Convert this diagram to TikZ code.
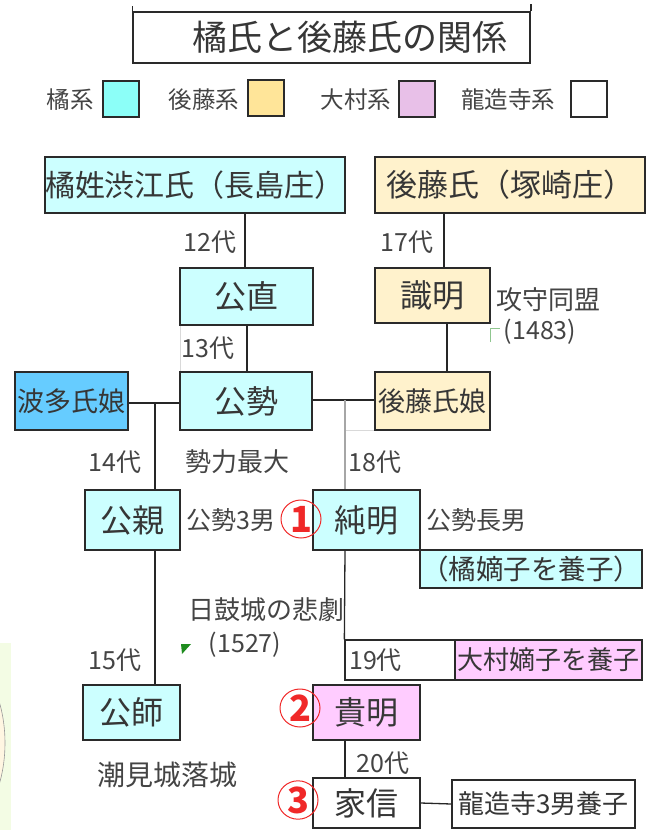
\documentclass[tikz,border=0pt]{standalone}
\usepackage{fontspec}
\usetikzlibrary{shapes.geometric}
\setmainfont{Noto Sans CJK JP}
\definecolor{cyanbox}{HTML}{CCFFFF}
\definecolor{orbox}{HTML}{FFF2CC}
\definecolor{bluebox}{HTML}{66CCFF}
\definecolor{pinkbox}{HTML}{FFCCFF}
\definecolor{legcyan}{HTML}{8CFFF8}
\definecolor{legor}{HTML}{FFE599}
\definecolor{legpink}{HTML}{E8C0E8}
\definecolor{txt}{HTML}{363636}
\definecolor{lbltxt}{HTML}{444444}
\definecolor{bordc}{HTML}{2A2A2A}
\definecolor{mkgreen}{HTML}{1E8C1E}
\definecolor{sidegreen}{HTML}{F3FCE4}
\definecolor{sideyel}{HTML}{FFF6E2}
\definecolor{numred}{HTML}{F02828}
\begin{document}
\begin{tikzpicture}[x=1pt,y=-1pt,
  bx/.style={draw=bordc, line width=1.3pt, inner sep=0pt, text=txt, font=\fontsize{32}{32}\selectfont},
  lbl/.style={inner sep=0pt, text=lbltxt, font=\fontsize{25}{25}\selectfont},
  leglbl/.style={inner sep=0pt, text=lbltxt, font=\fontsize{23.5}{24}\selectfont},
  legsq/.style={draw=bordc, line width=1.3pt, minimum width=36pt, minimum height=36pt, inner sep=0pt},
  con/.style={line width=1.3pt, draw=black!85},
  faint/.style={line width=0.8pt, draw=black!15},
  circ/.style={ellipse, draw=numred, line width=1pt, text=numred, inner sep=0pt, minimum width=40pt, minimum height=38pt, font=\bfseries\fontsize{36}{36}\selectfont}]
\useasboundingbox (0,0) rectangle (653,830);
% side decoration
\fill[sidegreen] (0,643) rectangle (11,830);
\begin{scope}
\clip (0,643) rectangle (11,830);
\draw[fill=sideyel, draw=black!40, line width=0.6pt] (-60,743) ellipse (65 and 100);
\end{scope}
% title
\node[draw=bordc, line width=1.3pt, minimum width=397pt, minimum height=51pt, inner sep=0pt] (title) at (331.5,37.5) {};
\draw[bordc, line width=1.6pt] (title.north west) -- ++(0,-5);
\draw[bordc, line width=2pt] (title.north east) -- ++(0,-7);
\node[text=txt, inner sep=0pt, font=\fontsize{35}{35}\selectfont] (titletext) at (350,37) {橘氏と後藤氏の関係};
% legend
\node[leglbl] (l1) at (70,100) {橘系};
\node[legsq, fill=legcyan] (s1) at (121,99) {};
\node[leglbl] (l2) at (204,100) {後藤系};
\node[legsq, fill=legor] (s2) at (266,98) {};
\node[leglbl] (l3) at (356,100) {大村系};
\node[legsq, fill=legpink] (s3) at (417,99) {};
\node[leglbl] (l4) at (508,100) {龍造寺系};
\node[legsq, fill=white] (s4) at (589,99) {};
% faint label frames
\draw[faint] (180,326) -- (180,372);
\draw[faint] (345,430) -- (375,430);
% boxes
\node[bx, fill=cyanbox, minimum width=300pt, minimum height=56pt, font=\fontsize{30}{30}\selectfont] (shibue) at (195,185) {橘姓渋江氏（長島庄）};
\node[bx, fill=orbox, minimum width=270pt, minimum height=56pt, font=\fontsize{31}{31}\selectfont] (gotoshi) at (510,185) {後藤氏（塚崎庄）};
\node[bx, fill=cyanbox, minimum width=133pt, minimum height=57pt] (kimnao) at (246.5,296.5) {公直};
\node[bx, fill=orbox, minimum width=115pt, minimum height=55pt] (noriaki) at (432.5,295.5) {識明};
\node[bx, fill=bluebox, minimum width=113pt, minimum height=58pt, font=\fontsize{27}{27}\selectfont] (hata) at (71.5,401) {波多氏娘};
\node[bx, fill=cyanbox, minimum width=132pt, minimum height=58pt] (kimise) at (246,401) {公勢};
\node[bx, fill=orbox, minimum width=115pt, minimum height=58pt, font=\fontsize{27}{27}\selectfont] (gotomus) at (432.5,401) {後藤氏娘};
\node[bx, fill=cyanbox, minimum width=95pt, minimum height=60pt] (kimichika) at (132.5,520) {公親};
\node[bx, fill=cyanbox, minimum width=107pt, minimum height=60pt] (sumiaki) at (366.5,520) {純明};
\node[bx, fill=cyanbox, minimum width=222pt, minimum height=38pt, font=\fontsize{27.5}{28}\selectfont] (tachiyo) at (531,569) {（橘嫡子を養子）};
\node[bx, fill=cyanbox, minimum width=97pt, minimum height=55pt] (kimmoro) at (131.5,712.5) {公師};
\node[bx, fill=white, minimum width=110pt, minimum height=40pt] (d19) at (400,660) {};
\node[bx, fill=pinkbox, minimum width=187pt, minimum height=40pt, font=\fontsize{26}{26}\selectfont] (omura) at (548.5,660) {大村嫡子を養子};
\node[bx, fill=pinkbox, minimum width=107pt, minimum height=55pt] (takaaki) at (366.5,712.5) {貴明};
\node[bx, fill=white, minimum width=107pt, minimum height=50pt] (ienobu) at (366.5,803) {家信};
\node[bx, fill=white, minimum width=183pt, minimum height=48pt, font=\fontsize{26}{26}\selectfont] (ryuzoji) at (543.5,804) {龍造寺3男養子};
% circled numbers
\node[circ] (c1) at (301,519) {1};
\node[circ] (c2) at (300,708) {2};
\node[circ] (c3) at (298,800) {3};
% labels
\node[lbl] (g12) at (210,242) {12代};
\node[lbl] (g17) at (407,242) {17代};
\node[lbl] (g13) at (208,348) {13代};
\node[lbl] (g14) at (115,462) {14代};
\node[lbl, font=\fontsize{26}{26}\selectfont] (seiryoku) at (237,462) {勢力最大};
\node[lbl] (g18) at (375,462) {18代};
\node[lbl] (sanan) at (231,520) {公勢3男};
\node[lbl] (chonan) at (476,520) {公勢長男};
\node[lbl, font=\fontsize{26}{26}\selectfont] (kosyu) at (548,300) {攻守同盟};
\node[lbl] (y1483) at (540,332) {(1483)};
\node[lbl, font=\fontsize{26}{26}\selectfont] (higeki) at (266,610) {日鼓城の悲劇};
\node[lbl] (y1527) at (245,645) {(1527)};
\node[lbl] (g15) at (115,660) {15代};
\node[lbl, font=\fontsize{28}{28}\selectfont] (shiomi) at (167,775) {潮見城落城};
\node[lbl, anchor=west] (g19) at (349,660) {19代};
\node[lbl] (g20) at (383,763) {20代};
% markers
\fill[mkgreen] (181,644) -- (191,644) -- (182,654) -- cycle;
\draw[mkgreen!50, line width=0.8pt] (490,342) -- (490,328) -- (500,328);
% connectors
\coordinate (j1) at (155,403);
\coordinate (j2) at (345,400);
\draw[con] (245,0 |- shibue.south) -- (245,0 |- kimnao.north);
\draw[con] (444,0 |- gotoshi.south) -- (444,0 |- noriaki.north);
\draw[con] (247,0 |- kimnao.south) -- (247,0 |- kimise.north);
\draw[con] (447,0 |- noriaki.south) -- (447,0 |- gotomus.north);
\draw[con] (hata.east |- j1) -- (kimise.west |- j1);
\draw[con] (kimise.east |- j2) -- (gotomus.west |- j2);
\draw[con] (j1) -- (j1 |- kimichika.north);
\draw[con] (j1 |- kimichika.south) -- (j1 |- kimmoro.north);
\draw[line width=1.3pt, draw=black!35] (j2) -- (j2 |- sumiaki.north);
\draw[con] (j2 |- sumiaki.south) -- (d19.north west);
\draw[con] (j2 |- takaaki.south) -- (j2 |- ienobu.north);
\draw[con] (ienobu.east) -- (ryuzoji.west);
\end{tikzpicture}
\end{document}
